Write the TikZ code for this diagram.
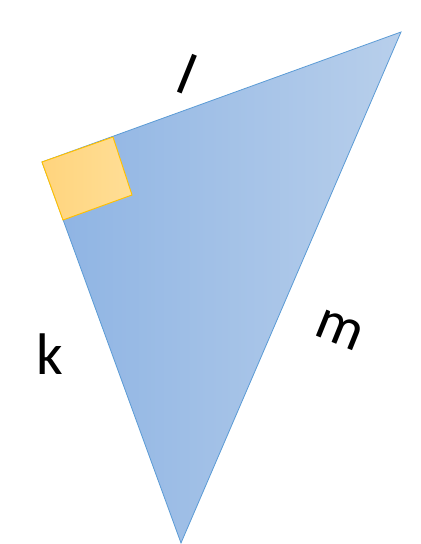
\documentclass[tikz,border=0pt]{standalone}
\usepackage{fontspec}
\setmainfont{Carlito}
\usepackage{xcolor}
\usetikzlibrary{calc}
\definecolor{triblue}{RGB}{91,155,213}
\definecolor{trileft}{RGB}{141,179,227}
\definecolor{triright}{RGB}{184,207,235}
\definecolor{sqgold}{RGB}{255,192,0}
\begin{document}
\begin{tikzpicture}[x=0.75pt,y=0.75pt,
    lab/.style={font=\fontsize{44}{50}\selectfont,inner sep=0pt}]
  \useasboundingbox (0,0) rectangle (421,544);
  % triangle corners
  \coordinate (rt) at (42,382);
  \coordinate (top) at (401,512);
  \coordinate (bot) at (181,1);
  \shade[left color=trileft,right color=triright,draw=triblue,line width=0.6pt]
    (rt) -- (top) -- (bot) -- cycle;
  % right angle mark
  \coordinate (q1) at (113,407);
  \coordinate (q2) at (132,349);
  \coordinate (q3) at (63,324);
  \shade[left color={rgb,255:red,255;green,212;blue,125},right color={rgb,255:red,255;green,222;blue,150},
    draw=sqgold,line width=0.7pt] (rt) -- (q1) -- (q2) -- (q3) -- cycle;
  % sides
  \foreach \n/\p/\r/\t in {labl/{187,470}/-22/l, labk/{50,190}/0/k, labm/{340,214}/-22/m}
  { \node[lab,rotate=\r] (\n) at (\p) {\t}; }
\end{tikzpicture}
\end{document}
